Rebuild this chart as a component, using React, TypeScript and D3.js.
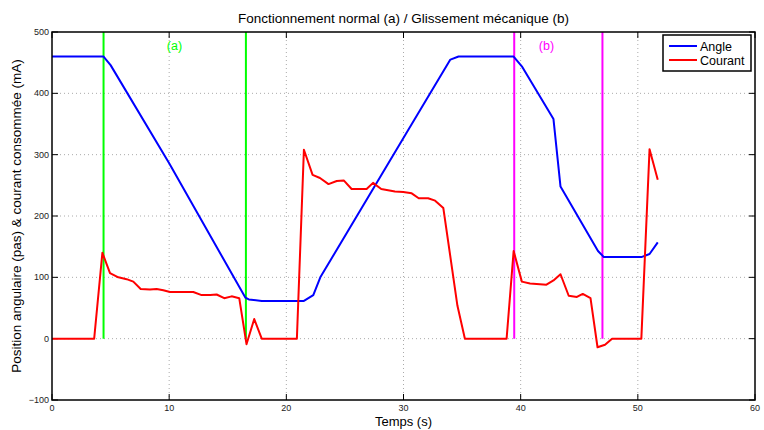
import React, { useEffect, useRef } from 'react';
import * as d3 from 'd3';

// time (s) / angle (pas)
const angleT = [0, 4.4, 5.0, 10.0, 16.5, 16.8, 17.9, 21.5, 22.3, 22.9, 30.3, 34.0, 34.7, 39.4, 40.1, 42.8, 43.4, 46.6, 47.1, 50.3, 51.0, 51.7];
const angleV = [460, 460, 446, 286, 67, 64, 61.5, 61.5, 71, 100, 337, 455, 460, 460, 444, 358, 248, 143, 133, 133, 138, 157];

// time (s) / courant (mA)
const courantT = [0, 3.6, 4.3, 4.95, 5.66, 6.37, 6.94, 7.57, 8.36, 8.93, 9.5, 10.07, 10.9, 12.06, 12.77, 13.5, 14.05, 14.7, 15.33, 15.98, 16.6, 17.26, 17.9, 20.9, 21.5, 22.24, 22.87, 23.6, 24.3, 24.9, 25.57, 26.85, 27.4, 28.1, 29.27, 29.98, 30.7, 31.3, 32.1, 32.7, 33.4, 34.6, 35.24, 38.8, 39.4, 40.1, 40.8, 42.2, 42.8, 43.4, 44.1, 44.8, 45.3, 45.96, 46.56, 47.2, 47.8, 50.3, 51.0, 51.7];
const courantV = [0, 0, 140, 107, 100, 97, 93, 81, 80, 81, 79, 76, 76, 76, 71, 71, 72, 66, 69, 66, -9, 32, 0, 0, 308, 267, 262, 252, 257, 258, 244, 244, 254, 244, 240, 239, 237, 229, 229, 225, 213, 54, 0, 0, 143, 93, 90, 88, 95, 105, 70, 68, 73, 66, -14, -10, 0, 0, 309, 259];

const markersA = [4.4, 16.55];
const markersB = [39.45, 46.98];
const xTicks = [0, 10, 20, 30, 40, 50, 60];
const yTicks = [-100, 0, 100, 200, 300, 400, 500];

const W = 764;
const H = 430;
const FONT = '"Liberation Sans", Arial, Helvetica, sans-serif';

export default function App() {
  const ref = useRef<SVGSVGElement>(null);

  useEffect(() => {
    if (!ref.current) return;
    const svg = d3.select(ref.current);
    svg.selectAll('*').remove();

    const left = 52, right = 755, top = 32, bottom = 400;
    const x = d3.scaleLinear().domain([0, 60]).range([left, right]);
    const y = d3.scaleLinear().domain([-100, 500]).range([bottom, top]);

    svg.append('rect').attr('width', W).attr('height', H).attr('fill', '#fff');

    // grid
    const grid = svg.append('g').attr('stroke', '#aaa').attr('stroke-width', 1).attr('stroke-dasharray', '1,3');
    xTicks.slice(1, -1).forEach(t => {
      grid.append('line').attr('x1', x(t)).attr('x2', x(t)).attr('y1', top).attr('y2', bottom);
    });
    yTicks.slice(1, -1).forEach(t => {
      grid.append('line').attr('x1', left).attr('x2', right).attr('y1', y(t)).attr('y2', y(t));
    });

    // ticks inside
    const tk = svg.append('g').attr('stroke', '#000').attr('stroke-width', 1);
    xTicks.forEach(t => {
      tk.append('line').attr('x1', x(t)).attr('x2', x(t)).attr('y1', bottom).attr('y2', bottom - 6);
      tk.append('line').attr('x1', x(t)).attr('x2', x(t)).attr('y1', top).attr('y2', top + 6);
    });
    yTicks.forEach(t => {
      tk.append('line').attr('x1', left).attr('x2', left + 6).attr('y1', y(t)).attr('y2', y(t));
      tk.append('line').attr('x1', right).attr('x2', right - 6).attr('y1', y(t)).attr('y2', y(t));
    });

    // tick labels
    svg.append('g').selectAll('text').data(xTicks).join('text')
      .attr('x', d => x(d)).attr('y', bottom + 10.5)
      .attr('text-anchor', 'middle').attr('font-size', 9).attr('font-family', FONT).attr('fill', '#222')
      .text(d => String(d));
    svg.append('g').selectAll('text').data(yTicks).join('text')
      .attr('x', left - 3).attr('y', d => y(d) + 3)
      .attr('text-anchor', 'end').attr('font-size', 9).attr('font-family', FONT).attr('fill', '#222')
      .text(d => (d < 0 ? '\u2212' + Math.abs(d) : String(d)));

    // marker lines
    markersA.forEach(t => {
      svg.append('line').attr('x1', x(t)).attr('x2', x(t)).attr('y1', y(0)).attr('y2', y(500))
        .attr('stroke', '#00ff00').attr('stroke-width', 2);
    });
    markersB.forEach(t => {
      svg.append('line').attr('x1', x(t)).attr('x2', x(t)).attr('y1', y(0)).attr('y2', y(500))
        .attr('stroke', '#ff00ff').attr('stroke-width', 2);
    });

    svg.append('text').attr('x', x(10.45)).attr('y', y(470)).attr('text-anchor', 'middle')
      .attr('font-size', 12.5).attr('font-family', FONT).attr('fill', '#00ff00').text('(a)');
    svg.append('text').attr('x', x(42.2)).attr('y', y(470)).attr('text-anchor', 'middle')
      .attr('font-size', 12.5).attr('font-family', FONT).attr('fill', '#ff00ff').text('(b)');

    const line = d3.line<[number, number]>().x(d => x(d[0])).y(d => y(d[1]));
    const angle = angleT.map((t, i) => [t, angleV[i]] as [number, number]);
    const courant = courantT.map((t, i) => [t, courantV[i]] as [number, number]);

    svg.append('path').attr('d', line(angle) || '').attr('fill', 'none')
      .attr('stroke', '#0000ff').attr('stroke-width', 2).attr('stroke-linejoin', 'round');
    svg.append('path').attr('d', line(courant) || '').attr('fill', 'none')
      .attr('stroke', '#ff0000').attr('stroke-width', 2).attr('stroke-linejoin', 'round');

    // axes box
    svg.append('rect').attr('x', left).attr('y', top).attr('width', right - left).attr('height', bottom - top)
      .attr('fill', 'none').attr('stroke', '#000').attr('stroke-width', 1.5);

    // legend
    const lg = svg.append('g').attr('transform', 'translate(663,35)');
    lg.append('rect').attr('width', 88).attr('height', 36).attr('fill', '#fff')
      .attr('stroke', '#000').attr('stroke-width', 1.5);
    const items = [['Angle', '#0000ff'], ['Courant', '#ff0000']];
    items.forEach(([name, col], i) => {
      const yy = 11 + i * 14;
      lg.append('line').attr('x1', 6).attr('x2', 34).attr('y1', yy).attr('y2', yy)
        .attr('stroke', col).attr('stroke-width', 2);
      lg.append('text').attr('x', 37).attr('y', yy + 4.5).attr('font-size', 12.5)
        .attr('font-family', FONT).attr('fill', '#000').text(name);
    });

    // titles
    svg.append('text').attr('x', (left + right) / 2).attr('y', 23).attr('text-anchor', 'middle')
      .attr('font-size', 13.5).attr('font-family', FONT).attr('fill', '#000')
      .text('Fonctionnement normal (a) / Glissement mécanique (b)');
    svg.append('text').attr('x', (left + right) / 2).attr('y', 426).attr('text-anchor', 'middle')
      .attr('font-size', 13).attr('font-family', FONT).attr('fill', '#000').text('Temps (s)');
    svg.append('text').attr('transform', `translate(21,${(top + bottom) / 2}) rotate(-90)`)
      .attr('text-anchor', 'middle').attr('font-size', 13.5).attr('font-family', FONT).attr('fill', '#000')
      .text('Position angulaire (pas) & courant consommée (mA)');
  }, []);

  return (
    <svg
      ref={ref}
      width={W}
      height={H}
      style={{ position: 'absolute', left: 0, top: 0, background: '#fff' }}
    />
  );
}
